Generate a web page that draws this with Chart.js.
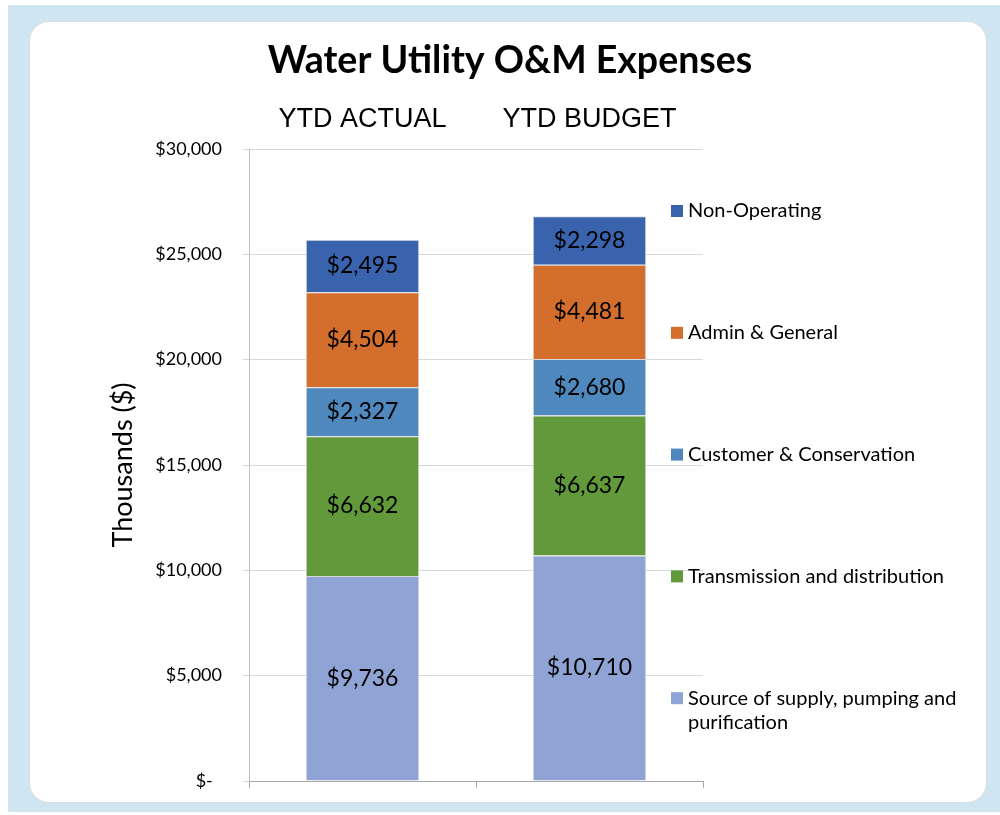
<!DOCTYPE html>
<html>
<head>
<meta charset="utf-8">
<script src="https://cdn.jsdelivr.net/npm/chart.js@4"></script>
<style>
  html, body { margin: 0; padding: 0; background: #ffffff; }
  #wrap { position: relative; width: 1000px; height: 815px; overflow: hidden; }
  #bg { position: absolute; left: 8px; top: 5px; width: 992px; height: 807px; background: #cfe6f2; }
  #card { position: absolute; left: 29px; top: 21px; width: 956px; height: 780px; background: #ffffff;
          border: 1px solid #dcdcdc; border-radius: 20px; }
  #c { position: absolute; left: 0; top: 0; }
</style>
</head>
<body>
<div id="wrap">
  <div id="bg"></div>
  <div id="card"></div>
  <canvas id="c" width="1000" height="815"></canvas>
</div>
<script>
// ---- data ----
const categories = ['YTD ACTUAL', 'YTD BUDGET'];
const seriesNames = [
  'Source of supply, pumping and purification',
  'Transmission and distribution',
  'Customer & Conservation',
  'Admin & General',
  'Non-Operating'
];
const sourceSupply = [9736, 10710];
const transmission = [6632, 6637];
const customerConservation = [2327, 2680];
const adminGeneral = [4504, 4481];
const nonOperating = [2495, 2298];
const yTicks = [0, 5000, 10000, 15000, 20000, 25000, 30000];
const legendLines = [
  ['Non-Operating'],
  ['Admin & General'],
  ['Customer & Conservation'],
  ['Transmission and distribution'],
  ['Source of supply, pumping and', 'purification']
];

const colors = ['#8fa3d4', '#61993b', '#4f88bd', '#d46e2c', '#3a63ae'];
const seriesValues = [sourceSupply, transmission, customerConservation, adminGeneral, nonOperating];

const fmt = v => '$' + v.toLocaleString('en-US');

const valueLabels = {
  id: 'valueLabels',
  afterDatasetsDraw(chart) {
    const ctx = chart.ctx;
    ctx.save();
    ctx.font = '23px Lato';
    ctx.fillStyle = '#000';
    ctx.textAlign = 'center';
    ctx.textBaseline = 'middle';
    chart.data.datasets.forEach((ds, di) => {
      const meta = chart.getDatasetMeta(di);
      meta.data.forEach((el, i) => {
        const p = el.getProps(['x', 'y', 'base'], true);
        ctx.fillText(fmt(ds.data[i]), p.x, (p.y + p.base) / 2);
      });
    });
    ctx.restore();
  }
};

const sideLegend = {
  id: 'sideLegend',
  afterDraw(chart) {
    const ctx = chart.ctx;
    const top = chart.chartArea.top;
    ctx.save();
    ctx.font = '20px Lato';
    ctx.textBaseline = 'middle';
    ctx.textAlign = 'left';
    legendLines.forEach((lines, k) => {
      const di = chart.data.datasets.length - 1 - k;
      const ds = chart.data.datasets[di];
      const y = top + 62 + k * 121.8;
      ctx.fillStyle = ds.backgroundColor;
      ctx.fillRect(671, y - 6, 12, 12);
      ctx.fillStyle = '#000';
      lines.forEach((t, j) => ctx.fillText(t, 688, y + j * 24));
    });
    ctx.restore();
  }
};

new Chart(document.getElementById('c'), {
  type: 'bar',
  data: {
    labels: categories,
    datasets: seriesNames.map((n, i) => ({
      label: n,
      data: seriesValues[i],
      backgroundColor: colors[i],
      borderColor: '#d9d9d9',
      borderWidth: 1,
      barPercentage: 0.5,
      categoryPercentage: 1.0
    }))
  },
  options: {
    responsive: false,
    animation: false,
    devicePixelRatio: 1,
    layout: { padding: { left: 20, right: 0, top: 38, bottom: 24 } },
    plugins: {
      legend: { display: false },
      tooltip: { enabled: false },
      title: {
        display: true,
        text: 'Water Utility O&M Expenses',
        color: '#000',
        font: { family: 'Lato', size: 37.5, weight: 'bold', lineHeight: 1.2 },
        padding: { top: 0, bottom: 0 }
      }
    },
    scales: {
      x: {
        stacked: true,
        position: 'bottom',
        ticks: { display: false },
        grid: { display: true, drawOnChartArea: false, offset: true, tickLength: 7, color: '#a6a6a6' },
        border: { display: true, color: '#a6a6a6' },
        afterFit(s) { s.height = 10; }
      },
      x2: {
        type: 'category',
        position: 'top',
        offset: true,
        ticks: { color: '#000', font: { family: 'Liberation Sans', size: 27, lineHeight: 1.2 }, padding: 5 },
        grid: { display: false },
        border: { display: false },
        afterFit(s) { s.height = 66; }
      },
      y: {
        stacked: true,
        min: 0,
        max: 30000,
        afterBuildTicks(s) { s.ticks = yTicks.map(v => ({ value: v })); },
        ticks: {
          color: '#000',
          padding: 21,
          font: { family: 'Lato', size: 18 },
          callback: v => v === 0 ? '$-  ' : fmt(v)
        },
        grid: { color: '#d9d9d9', tickLength: 6 },
        border: { display: true, color: '#bfbfbf' },
        title: {
          display: true,
          text: 'Thousands ($)',
          color: '#000',
          font: { family: 'Lato', size: 27, lineHeight: 1.2 },
          padding: { top: 87, bottom: 0 }
        },
        afterFit(s) { s.width = 229; }
      },
      yR: {
        position: 'right',
        display: true,
        min: 0,
        max: 1,
        ticks: { display: false },
        grid: { display: false, drawTicks: false },
        border: { display: false },
        afterFit(s) { s.width = 297; }
      }
    }
  },
  plugins: [valueLabels, sideLegend]
});
</script>
</body>
</html>
